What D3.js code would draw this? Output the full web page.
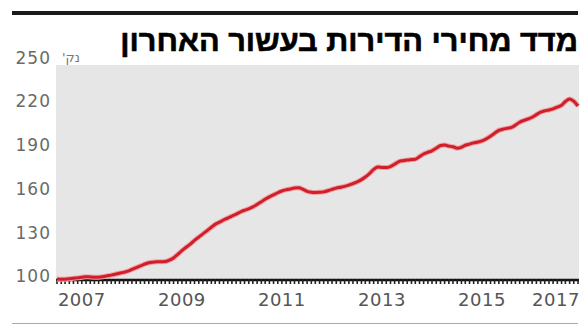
<!DOCTYPE html>
<html>
<head>
<meta charset="utf-8">
<script src="https://cdn.jsdelivr.net/npm/d3@7"></script>
<style>
  html, body { margin: 0; padding: 0; background: #fff; }
  svg { display: block; }
</style>
</head>
<body>
<div id="chart"></div>
<script>
// monthly index, Jan 2007 .. Jun 2017
const startYear = 2007;
const values = [
  98.0, 97.8, 97.9, 98.2, 98.6, 98.8, 99.2, 99.6, 99.4, 99.3, 99.3, 99.6,
  100.2, 100.7, 101.3, 102.0, 102.6, 103.4, 104.6, 105.8, 107.0, 108.2, 109.2, 109.6,
  109.8, 109.9, 110.0, 111.0, 112.5, 115.0, 117.5, 119.8, 122.0, 124.5, 126.8, 129.0,
  131.2, 133.5, 135.5, 137.0, 138.5, 139.8, 141.2, 142.5, 144.0, 145.2, 146.2, 147.5,
  149.2, 151.0, 152.8, 154.4, 155.8, 157.2, 158.4, 159.2, 159.8, 160.4, 160.6, 159.6,
  158.2, 157.6, 157.4, 157.5, 157.8, 158.6, 159.5, 160.4, 161.0, 161.6, 162.4, 163.5,
  164.6, 166.2, 168.0, 170.4, 173.2, 174.8, 174.6, 174.5, 175.2, 176.8, 178.6, 179.2,
  179.6, 180.0, 180.2, 182.0, 183.8, 185.0, 186.0, 187.8, 189.6, 190.0, 189.2, 188.8,
  187.8, 188.4, 189.8, 190.6, 191.4, 192.0, 192.8, 194.2, 196.0, 198.0, 200.0, 200.8,
  201.4, 202.0, 203.6, 205.6, 206.8, 207.8, 209.0, 210.8, 212.5, 213.4, 214.0, 214.8,
  216.0, 217.2, 219.8, 221.6, 220.0, 216.7
];
const yTicks = [100, 130, 160, 190, 220, 250];
const xLabels = [2007, 2009, 2011, 2013, 2015, 2017];
const title = "מדד מחירי הדירות בעשור האחרון";
const unit = "נק'\u200F"; // RLM keeps the geresh on the left

const W = 583, H = 329;
const plot = { left: 56, right: 579, top: 65, bottom: 280 };

const data = values.map((v, i) => ({ date: new Date(startYear, i, 1), value: v }));

const svg = d3.select("#chart").append("svg")
  .attr("width", W)
  .attr("height", H);

const x = d3.scaleTime()
  .domain([new Date(2007, 0, 1), new Date(2017, 5, 1)])
  .range([plot.left + 1, 578]);

const y = d3.scaleLinear()
  .domain([97, 250])
  .range([280.5, 57.5]);

// top rule
svg.append("rect")
  .attr("x", 12).attr("y", 11)
  .attr("width", 566).attr("height", 4)
  .attr("fill", "#1a1a1a");

// title, squeezed to the width it has in the original
const titleG = svg.append("g");
const titleText = titleG.append("text")
  .attr("x", 0).attr("y", 0)
  .attr("text-anchor", "end")
  .style("font-family", "'Liberation Sans', Arial, sans-serif")
  .style("font-weight", "bold")
  .style("font-size", "30px")
  .attr("fill", "#000")
  .attr("stroke", "#000")
  .attr("stroke-width", 0.6)
  .text(title);

const tw = titleText.node().getBBox().width;
const sx = 458 / tw;
titleG.attr("transform", `translate(578,51) scale(${sx},1)`);

// plot background
svg.append("rect")
  .attr("x", plot.left).attr("y", plot.top)
  .attr("width", plot.right - plot.left)
  .attr("height", plot.bottom - plot.top)
  .attr("fill", "#e6e6e6");

// y labels
svg.append("g")
  .selectAll("text")
  .data(yTicks)
  .join("text")
  .attr("x", 51)
  .attr("y", d => y(d))
  .attr("dy", "0.36em")
  .attr("text-anchor", "end")
  .style("font-family", "'DejaVu Sans', sans-serif")
  .style("font-size", "17px")
  .style("letter-spacing", "1px")
  .attr("fill", "#6a6a6a")
  .text(d => d);

// unit label, right edge at x
svg.append("text")
  .attr("x", 80)
  .attr("y", y(250))
  .attr("dy", "0.36em")
  .attr("text-anchor", "end")
  .style("font-family", "'DejaVu Sans', sans-serif")
  .style("font-size", "13px")
  .attr("fill", "#777")
  .text(unit);

// x axis: line + monthly ticks
const months = d3.timeMonth.range(new Date(2007, 0, 1), new Date(2017, 6, 1));
svg.append("line")
  .attr("x1", plot.left).attr("x2", plot.right)
  .attr("y1", 280).attr("y2", 280)
  .attr("stroke", "#111")
  .attr("stroke-width", 2.5);

svg.append("g")
  .selectAll("line")
  .data(months)
  .join("line")
  .attr("x1", d => x(d)).attr("x2", d => x(d))
  .attr("y1", 279).attr("y2", 284)
  .attr("stroke", "#222")
  .attr("stroke-width", 1.6);

// x labels, centred on mid-year, last one kept inside the frame
svg.append("g")
  .selectAll("text")
  .data(xLabels)
  .join("text")
  .attr("x", d => Math.min(x(new Date(d, 6, 1)), 556))
  .attr("y", 306)
  .attr("text-anchor", "middle")
  .style("font-family", "'DejaVu Sans', sans-serif")
  .style("font-size", "18px")
  .style("letter-spacing", "0.5px")
  .attr("fill", "#555")
  .text(d => d);

// red line
const line = d3.line()
  .x(d => x(d.date))
  .y(d => y(d.value))
  .curve(d3.curveMonotoneX);

svg.append("path")
  .datum(data)
  .attr("fill", "none")
  .attr("stroke", "#f0a0a4")
  .attr("stroke-width", 5)
  .attr("stroke-linejoin", "round")
  .attr("d", line);

svg.append("path")
  .datum(data)
  .attr("fill", "none")
  .attr("stroke", "#cf1f2b")
  .attr("stroke-width", 3)
  .attr("stroke-linejoin", "round")
  .attr("d", line);

// bottom rule
svg.append("line")
  .attr("x1", 12).attr("x2", 578)
  .attr("y1", 323.5).attr("y2", 323.5)
  .attr("stroke", "#aaa")
  .attr("stroke-width", 1);
</script>
</body>
</html>
